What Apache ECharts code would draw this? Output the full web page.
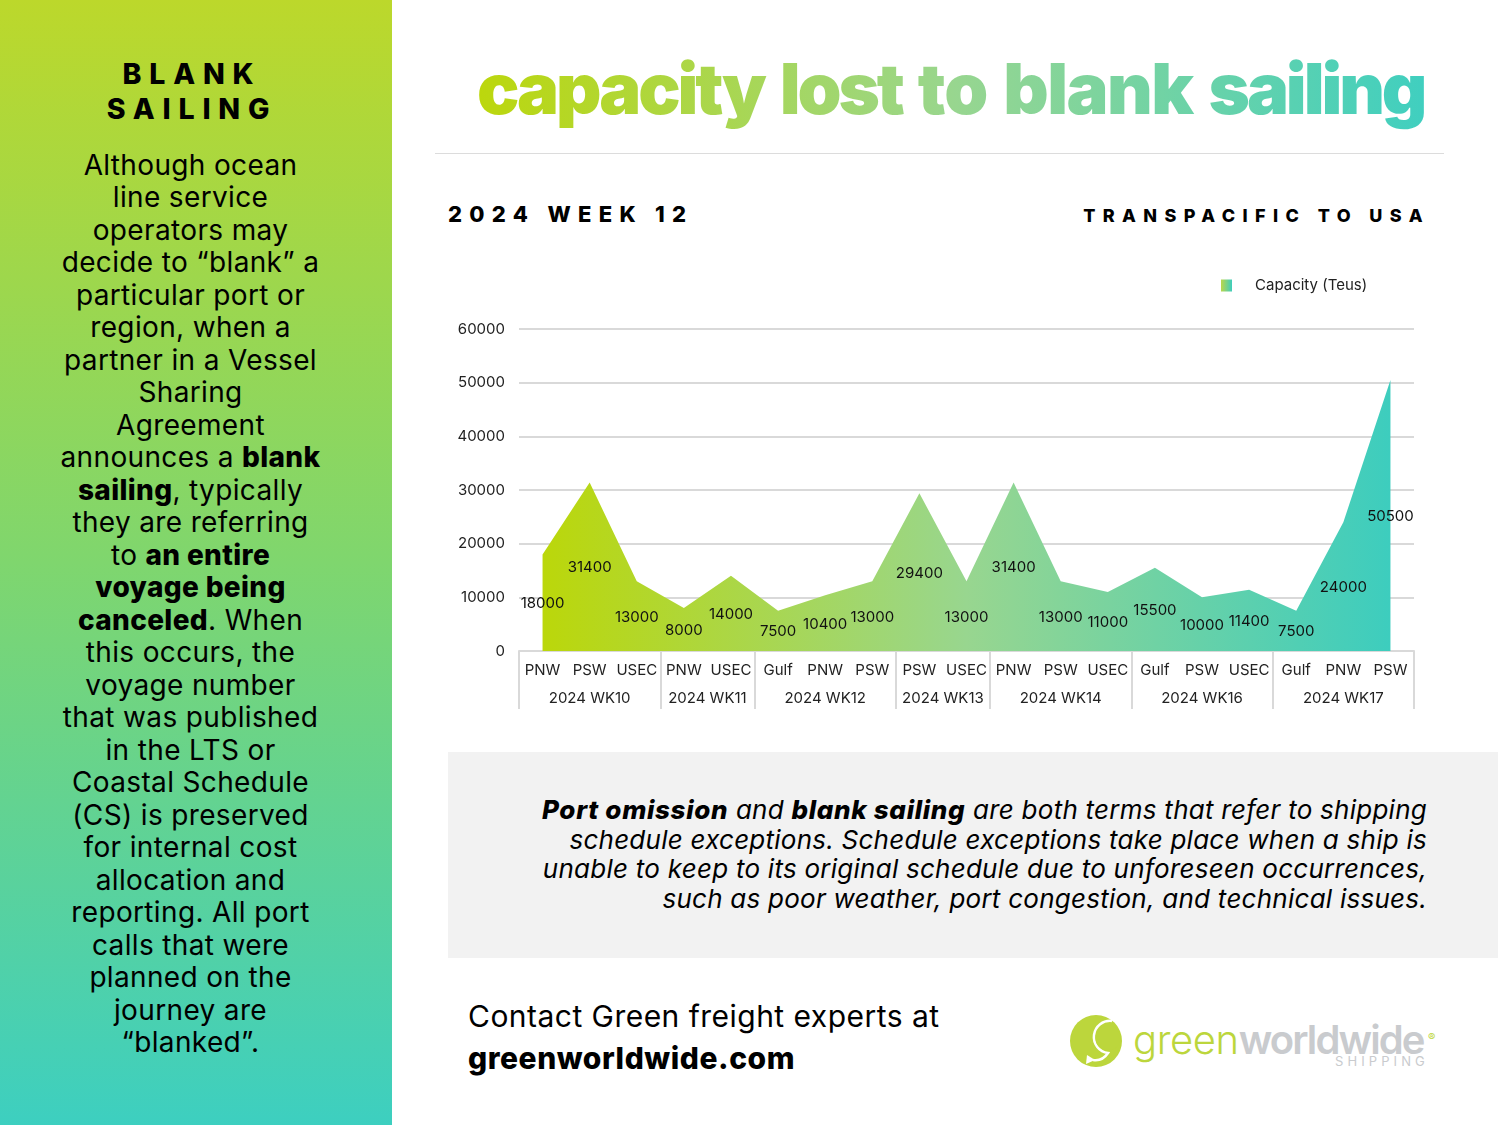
<!DOCTYPE html>
<html>
<head>
<meta charset="utf-8">
<title>capacity lost to blank sailing</title>
<script src="https://cdn.jsdelivr.net/npm/echarts@6/dist/echarts.min.js"></script>
<style>
  html, body { margin: 0; padding: 0; background: #fff; }
  body { width: 1500px; height: 1125px; position: relative; overflow: hidden; font-family: Inter, "Open Sans", sans-serif; color: #000; }
  .abs { position: absolute; white-space: nowrap; }
  .side { left: 0; top: 0; width: 392px; height: 1125px; background: linear-gradient(180deg, #bcd82b 0%, #7fd66e 50%, #3dcfc0 100%); }
  .side-head { left: 0; width: 384px; top: 57px; text-align: center; font-weight: 800; font-size: 28.5px; line-height: 34.5px; letter-spacing: 7.8px; }
  .side-text { left: 0; width: 381px; top: 149px; text-align: center; font-size: 28px; line-height: 32.48px; letter-spacing: 0.35px; }
  .side-text b { font-weight: 800; }
  .title { left: 477px; top: 46px; width: 953px; font-weight: 900; font-size: 70.5px; line-height: 86px; letter-spacing: -3.1px; word-spacing: 5px; background: linear-gradient(90deg, #bcd70c 0%, #98d68f 50%, #3fcfc0 100%); -webkit-background-clip: text; background-clip: text; color: transparent; }
  .title .to { letter-spacing: -1.1px; }
  .title .bl { letter-spacing: -1.5px; }
  .rule { left: 435px; top: 153px; width: 1009px; height: 1px; background: #dcdcdc; }
  .week { left: 448px; top: 200px; font-weight: 800; font-size: 22px; line-height: 28px; letter-spacing: 7.3px; }
  .trade { right: 70px; top: 204px; font-weight: 800; font-size: 18px; line-height: 24px; letter-spacing: 7.4px; }
  #chart { left: 0; top: 0; width: 1500px; height: 1125px; }
  .note-box { left: 448px; top: 752px; width: 1050px; height: 206px; background: #f2f2f2; }
  .note { right: 73px; top: 795px; text-align: right; font-style: italic; font-size: 26px; line-height: 29.7px; letter-spacing: 0.25px; }
  .note b { font-weight: 800; letter-spacing: 0.7px; }
  .contact { left: 468px; top: 995px; font-size: 30px; line-height: 42px; letter-spacing: 0.47px; }
  .contact b { font-weight: 800; letter-spacing: 0.55px; }
  .logo-a { left: 1133px; top: 1015px; font-size: 40px; line-height: 50px; letter-spacing: -0.4px; color: #bcd63c; font-weight: 300; }
  .logo-a span { color: #c9cbce; font-weight: 600; letter-spacing: -1.9px; }
  .logo-r { left: 1428px; top: 1030px; font-size: 11px; line-height: 14px; color: #bcd63c; }
  .logo-s { left: 1335px; top: 1053px; font-size: 13px; line-height: 16px; letter-spacing: 4.1px; color: #c9cbce; }
</style>
</head>
<body>
  <div class="abs side"></div>
  <div class="abs side-head">BLANK<br>SAILING</div>
  <div class="abs side-text">Although ocean<br>line service<br>operators may<br>decide to “blank” a<br>particular port or<br>region, when a<br>partner in a Vessel<br>Sharing<br>Agreement<br>announces a <b>blank</b><br><b>sailing</b>, typically<br>they are referring<br>to <b>an entire</b><br><b>voyage being</b><br><b>canceled</b>. When<br>this occurs, the<br>voyage number<br>that was published<br>in the LTS or<br>Coastal Schedule<br>(CS) is preserved<br>for internal cost<br>allocation and<br>reporting. All port<br>calls that were<br>planned on the<br>journey are<br>“blanked”.</div>

  <div class="abs title">capacity lost <span class="to">to</span> <span class="bl">blank</span> sailing</div>
  <div class="abs rule"></div>
  <div class="abs week">2024 WEEK 12</div>
  <div class="abs trade">TRANSPACIFIC TO USA</div>

  <div class="abs note-box"></div>
  <div class="abs note"><b>Port omission</b> and <b>blank sailing</b> are both terms that refer to shipping<br>schedule exceptions. Schedule exceptions take place when a ship is<br>unable to keep to its original schedule due to unforeseen occurrences,<br>such as poor weather, port congestion, and technical issues.</div>

  <div class="abs contact">Contact Green freight experts at<br><b>greenworldwide.com</b></div>

  <svg class="abs" style="left:1068px;top:1013px" width="56" height="56" viewBox="0 0 56 56">
    <circle cx="28" cy="28" r="26" fill="#bcd63c"/>
    <path d="M44 8 A15 15 0 1 0 40 40 C36 46 31 48 25 47" fill="none" stroke="#fff" stroke-width="2.5"/>
    <circle cx="40" cy="25" r="12.5" fill="#bcd63c"/>
    <path d="M18 51 L19 42 L27 47 Z" fill="#fff"/>
  </svg>
  <div class="abs logo-a">green<span>worldwide</span></div>
  <div class="abs logo-r">®</div>
  <div class="abs logo-s">SHIPPING</div>

  <div class="abs" id="chart"></div>

<script>
(function () {
    var myChart = echarts.init(document.querySelector("#chart"), null, { renderer: 'canvas' });

    var ports = ['PNW', 'PSW', 'USEC', 'PNW', 'USEC', 'Gulf', 'PNW', 'PSW', 'PSW', 'USEC',
        'PNW', 'PSW', 'USEC', 'Gulf', 'PSW', 'USEC', 'Gulf', 'PNW', 'PSW'];
    var capacity = [18000, 31400, 13000, 8000, 14000, 7500, 10400, 13000, 29400, 13000,
        31400, 13000, 11000, 15500, 10000, 11400, 7500, 24000, 50500];

    // second axis runs in category slots, 0 to 19
    var weeks = { 1.5: '2024 WK10', 4: '2024 WK11', 6.5: '2024 WK12', 9: '2024 WK13',
        11.5: '2024 WK14', 14.5: '2024 WK16', 17.5: '2024 WK17' };

    var fill = new echarts.graphic.LinearGradient(0, 0, 1, 0, [
        { offset: 0, color: '#bbd70a' },
        { offset: 0.5, color: '#98d68f' },
        { offset: 1, color: '#3dcdbe' }
    ]);
    var font = 'Inter';

    var option = {
        animation: false,
        legend: {
            left: 1216,
            top: 273,
            icon: 'rect',
            itemWidth: 11,
            itemHeight: 12,
            data: ['Capacity (Teus)'],
            itemStyle: { color: new echarts.graphic.LinearGradient(0, 0, 1, 0, [
                { offset: 0, color: '#bbd74a' },
                { offset: 1, color: '#3dcdbe' }
            ]) },
            textStyle: { fontFamily: font, fontSize: 15, color: '#222', padding: [0, 0, 0, 18] }
        },
        grid: { left: 519, top: 329, width: 895, height: 322 },
        xAxis: [
            {
                type: 'category',
                data: ports,
                boundaryGap: true,
                axisLine: { lineStyle: { color: '#d9d9d9', width: 2 } },
                axisTick: { show: false },
                axisLabel: { interval: 0, margin: 12, fontFamily: font, fontSize: 15, color: '#222' }
            },
            {
                type: 'value',
                position: 'bottom',
                min: 0,
                max: 19,
                splitLine: { show: false },
                axisLine: { show: false },
                axisTick: {
                    show: true,
                    customValues: [0, 3, 5, 8, 10, 13, 16, 19],
                    length: 58,
                    lineStyle: { color: '#d9d9d9', width: 2 }
                },
                axisLabel: {
                    customValues: [1.5, 4, 6.5, 9, 11.5, 14.5, 17.5],
                    margin: 40,
                    fontFamily: font,
                    fontSize: 15,
                    color: '#222',
                    formatter: function (v) { return weeks[v]; }
                }
            }
        ],
        yAxis: {
            type: 'value',
            min: 0,
            max: 60000,
            interval: 10000,
            axisLine: { show: false },
            axisTick: { show: false },
            splitLine: { lineStyle: { color: '#d9d9d9', width: 2 } },
            axisLabel: {
                margin: 14,
                fontFamily: font,
                fontSize: 15,
                color: '#222',
                formatter: function (v) { return String(v); }
            }
        },
        series: [
            {
                name: 'Capacity (Teus)',
                type: 'line',
                data: capacity,
                showSymbol: false,
                symbol: 'none',
                lineStyle: { width: 0 },
                itemStyle: { color: fill },
                areaStyle: { color: fill, opacity: 1 },
                z: 3
            },
            {
                // see-through bars, only here so the labels sit mid height like the original
                name: 'labels',
                type: 'bar',
                data: capacity,
                barWidth: 20,
                itemStyle: { color: 'rgba(0,0,0,0)' },
                label: { show: true, position: 'inside', offset: [0, 1], fontFamily: font, fontSize: 15, color: '#111' },
                z: 4
            }
        ]
    };

    myChart.setOption(option);
    window.addEventListener('resize', function () {
        myChart.resize();
    });
})();
</script>
</body>
</html>
